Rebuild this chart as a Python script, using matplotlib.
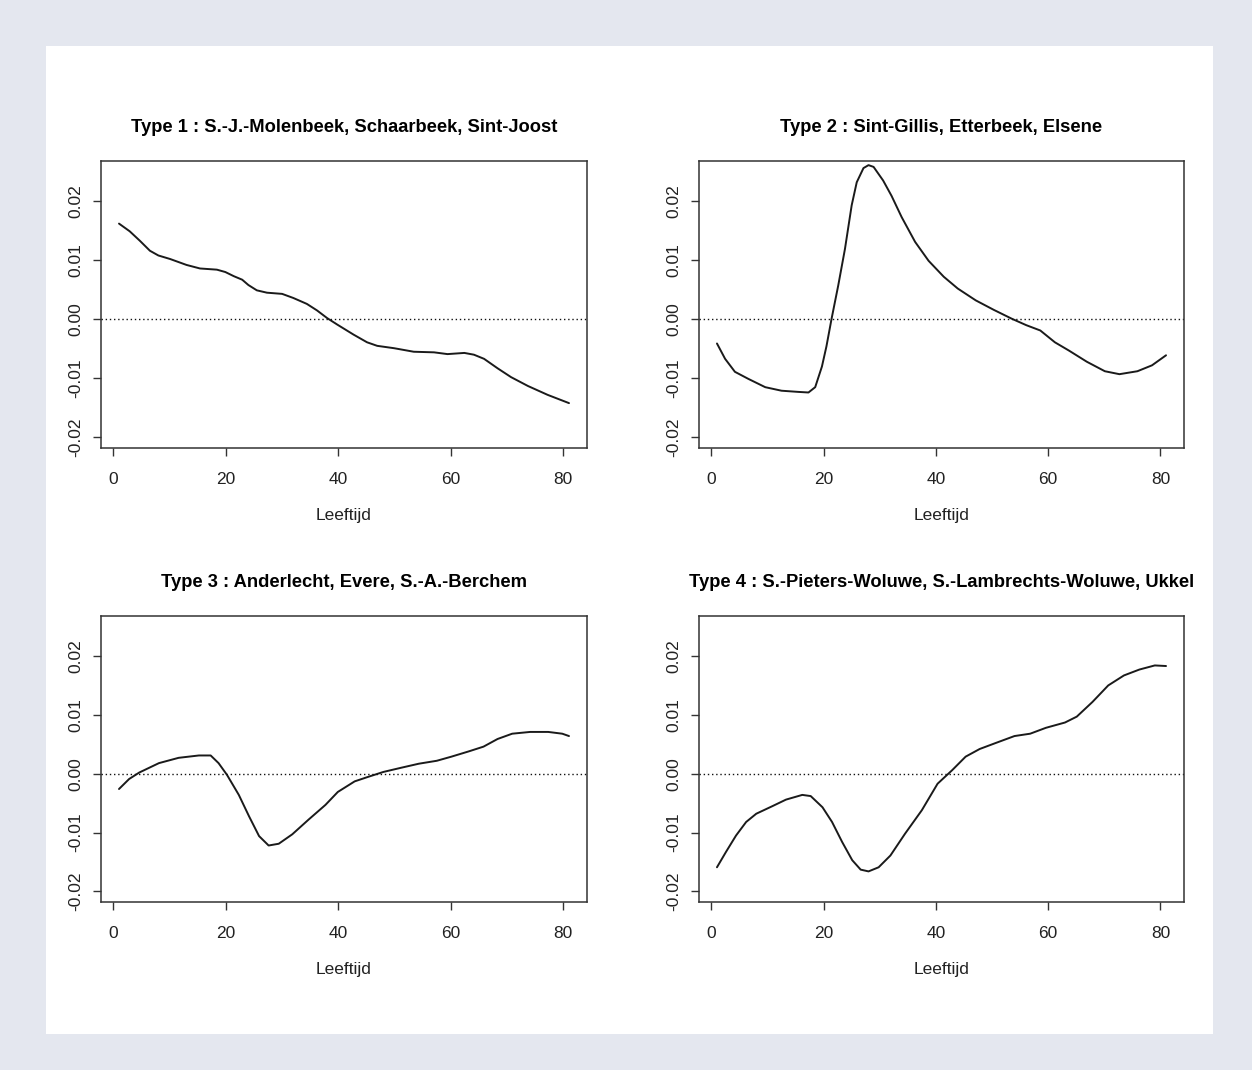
import matplotlib
matplotlib.use("Agg")
import matplotlib.pyplot as plt
from matplotlib.patches import Rectangle

# ---- data ----
titles = [
    "Type 1 : S.-J.-Molenbeek, Schaarbeek, Sint-Joost",
    "Type 2 : Sint-Gillis, Etterbeek, Elsene",
    "Type 3 : Anderlecht, Evere, S.-A.-Berchem",
    "Type 4 : S.-Pieters-Woluwe, S.-Lambrechts-Woluwe, Ukkel",
]

age1 = [1, 2.9, 4.7, 6.5, 8.0, 10.1, 13.0, 15.4, 18.4, 19.9, 21.4, 22.9, 24.0,
        25.5, 27.3, 30.0, 32.0, 34.4, 36.2, 38.0, 39.8, 42.7, 45.1, 46.9, 49.9,
        53.4, 57.0, 59.4, 62.4, 64.1, 65.9, 68.3, 70.7, 73.7, 77.2, 81]
val1 = [0.0162, 0.0149, 0.0133, 0.0116, 0.0108, 0.0102, 0.0092, 0.0086, 0.0084,
        0.0080, 0.0073, 0.0067, 0.0058, 0.0049, 0.0045, 0.0043, 0.0036, 0.0026,
        0.0015, 0.0002, -0.0009, -0.0026, -0.0039, -0.0045, -0.0049, -0.0055,
        -0.0056, -0.0059, -0.0057, -0.0060, -0.0067, -0.0083, -0.0098, -0.0113,
        -0.0128, -0.0142]

age2 = [1, 2.45, 4.2, 6.6, 9.6, 12.5, 15.5, 17.3, 18.5, 19.7, 20.5, 21.4, 22.6,
        23.8, 25.0, 25.9, 27.1, 28.0, 28.9, 30.6, 32.1, 33.9, 36.3, 38.7, 41.4,
        43.9, 47.1, 50.3, 53.5, 56.1, 58.6, 61.2, 63.7, 66.9, 70.1, 72.7, 75.9,
        78.5, 81]
val2 = [-0.0041, -0.0067, -0.0089, -0.0101, -0.0115, -0.0121, -0.0123, -0.0124,
        -0.0115, -0.0080, -0.0046, 0.0000, 0.0057, 0.0119, 0.0193, 0.0232,
        0.0256, 0.0261, 0.0258, 0.0235, 0.0209, 0.0173, 0.0131, 0.0099, 0.0072,
        0.0052, 0.0032, 0.0016, 0.0001, -0.001, -0.0019, -0.0039, -0.0053,
        -0.0072, -0.0088, -0.0093, -0.0088, -0.0078, -0.0061]

age3 = [1, 2.8, 4.6, 8.1, 11.6, 15.2, 17.3, 18.7, 20.2, 22.3, 24.1, 25.9, 27.6,
        29.4, 31.8, 34.7, 37.7, 39.9, 42.9, 45.4, 48, 51.1, 54.3, 57.5, 60.1,
        63.2, 65.8, 68.3, 70.9, 74.1, 77.3, 79.8, 81]
val3 = [-0.0026, -0.0009, 0.0002, 0.0018, 0.0027, 0.0031, 0.0031, 0.0018,
        -0.0002, -0.0036, -0.0072, -0.0106, -0.0122, -0.0119, -0.0103, -0.0078,
        -0.0053, -0.0031, -0.0013, -0.0005, 0.0003, 0.001, 0.0017, 0.0022,
        0.0029, 0.0038, 0.0046, 0.0059, 0.0068, 0.0071, 0.0071, 0.0068, 0.0064]

age4 = [1, 2.6, 4.4, 6.2, 8.0, 10.9, 13.3, 16.2, 17.7, 19.8, 21.5, 23.3, 25.1,
        26.6, 28.0, 29.8, 31.9, 34.5, 37.5, 40.3, 42.9, 45.3, 47.8, 50.6, 54,
        56.8, 59.6, 63, 65.1, 67.9, 70.7, 73.5, 76.25, 79, 81]
val4 = [-0.0159, -0.0133, -0.0105, -0.0082, -0.0068, -0.0055, -0.0044, -0.0036,
        -0.0038, -0.0057, -0.0082, -0.0116, -0.0147, -0.0163, -0.0166, -0.0159,
        -0.0139, -0.0102, -0.0062, -0.0017, 0.0006, 0.0029, 0.0042, 0.0052,
        0.0064, 0.0068, 0.0078, 0.0087, 0.0097, 0.0122, 0.015, 0.0167, 0.0177,
        0.0184, 0.0183]

ages = [age1, age2, age3, age4]
vals = [val1, val2, val3, val4]

x_ticks = [0, 20, 40, 60, 80]
y_ticks = [-0.02, -0.01, 0.00, 0.01, 0.02]

# ---- figure ----
W, H = 1252, 1070
fig = plt.figure(figsize=(W / 100, H / 100), dpi=100, facecolor="#e4e7ef")
fig.patches.append(Rectangle((46 / W, 1 - 1034 / H), (1213 - 46) / W, (1034 - 46) / H,
                             transform=fig.transFigure, facecolor="white",
                             edgecolor="none", zorder=-10))

fam = ["Liberation Sans", "DejaVu Sans"]

# axes boxes in pixels: left, right, top, bottom
boxes = [(101, 587, 161, 448), (699, 1184, 161, 448),
         (101, 587, 616, 902), (699, 1184, 616, 902)]

for i, (l, r, t, b) in enumerate(boxes):
    ax = fig.add_axes([l / W, 1 - b / H, (r - l) / W, (b - t) / H])
    ax.plot(ages[i], vals[i], color="#1a1a1a", lw=1.4, solid_joinstyle="round",
            solid_capstyle="round")
    ax.axhline(0, color="#111111", lw=1.0, linestyle=(0, (1, 2)))
    ax.set_xlim(-2.2, 84.2)
    ax.set_ylim(-0.0218, 0.0268)
    ax.set_xticks(x_ticks)
    ax.set_xticklabels([str(v) for v in x_ticks], family=fam, fontsize=12.5, color="#222222")
    ax.set_yticks(y_ticks)
    ax.set_yticklabels(["%.2f" % v for v in y_ticks], family=fam, fontsize=12.5,
                       rotation=90, va="center", color="#222222")
    ax.tick_params(direction="out", length=5.5, width=1, color="#333333")
    ax.tick_params(axis="x", pad=12)
    ax.tick_params(axis="y", pad=7)
    for s in ax.spines.values():
        s.set_linewidth(1.1)
        s.set_color("#333333")
    ax.set_xlabel("Leeftijd", family=fam, fontsize=12.5, labelpad=15, color="#222222")
    ax.set_title(titles[i], family=fam, fontsize=13.2, fontweight="bold", pad=21)

fig.savefig("out.png", dpi=100, facecolor=fig.get_facecolor())
